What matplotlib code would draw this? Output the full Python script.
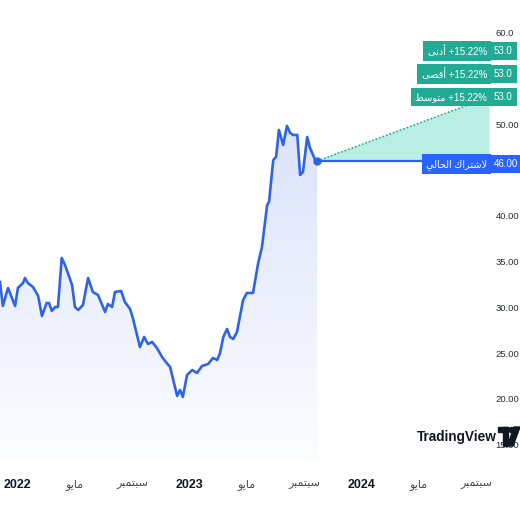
import matplotlib
matplotlib.use("Agg")
import matplotlib.pyplot as plt
import matplotlib.dates as mdates
from matplotlib.patches import Polygon, Rectangle, Circle
from matplotlib.transforms import IdentityTransform
from matplotlib.colors import LinearSegmentedColormap
import numpy as np
import pandas as pd

# price history
dates = [
    "2021-11-24", "2021-11-30", "2021-12-11", "2021-12-26", "2022-01-01", "2022-01-12",
    "2022-01-16", "2022-01-22", "2022-02-02", "2022-02-13", "2022-02-21", "2022-03-03",
    "2022-03-08", "2022-03-14", "2022-03-21", "2022-03-27", "2022-04-04", "2022-04-11",
    "2022-04-26", "2022-05-02", "2022-05-09", "2022-05-19", "2022-05-30", "2022-06-09",
    "2022-06-20", "2022-07-05", "2022-07-11", "2022-07-20", "2022-07-26", "2022-08-08",
    "2022-08-16", "2022-08-27", "2022-09-02", "2022-09-17", "2022-09-26", "2022-10-04",
    "2022-10-13", "2022-10-23", "2022-11-03", "2022-11-11", "2022-11-20", "2022-12-05",
    "2022-12-11", "2022-12-17", "2022-12-26", "2023-01-06", "2023-01-16", "2023-01-27",
    "2023-02-09", "2023-02-19", "2023-02-28", "2023-03-06", "2023-03-13", "2023-03-21",
    "2023-03-27", "2023-04-03", "2023-04-11", "2023-04-24", "2023-05-02", "2023-05-15",
    "2023-05-26", "2023-06-03", "2023-06-14", "2023-06-18", "2023-06-27", "2023-07-03",
    "2023-07-09", "2023-07-18", "2023-07-26", "2023-08-02", "2023-08-08", "2023-08-17",
    "2023-08-23", "2023-08-29", "2023-09-07", "2023-09-13", "2023-09-24", "2023-09-28",
]
prices = [
    32.79, 30.16, 32.13, 30.16, 32.13, 32.68,
    33.22, 32.68, 32.24, 31.26, 29.07, 30.49,
    30.49, 29.62, 30.05, 30.05, 35.41, 34.64,
    32.46, 30.05, 29.73, 30.27, 33.22, 31.69,
    31.37, 29.51, 30.38, 30.05, 31.69, 31.80,
    30.60, 29.84, 28.85, 25.68, 26.78, 26.01,
    26.23, 25.57, 24.59, 24.04, 23.50, 20.33,
    20.98, 20.22, 22.62, 23.17, 22.84, 23.61,
    23.83, 24.48, 24.26, 25.03, 26.78, 27.65,
    26.78, 26.56, 27.32, 30.82, 31.58, 31.58,
    34.86, 36.61, 41.20, 41.53, 46.12, 46.45,
    49.40, 47.76, 49.84, 49.07, 48.85, 48.85,
    44.48, 44.81, 48.63, 47.43, 46.12, 46.00,
]

current_label = "لاشتراك الحالي"
current_price = 46.00
target_names = ["أدنى", "أقصى", "متوسط"]
target_values = [53.0, 53.0, 53.0]

xtick_dates = ["2022-01-01", "2022-05-01", "2022-09-01", "2023-01-01", "2023-05-01",
               "2023-09-01", "2024-01-01", "2024-05-01", "2024-09-01"]
xtick_labels = ["2022", "مايو", "سبتمبر", "2023", "مايو", "سبتمبر", "2024", "مايو", "سبتمبر"]
# 45 and 55 sit under the price tags, so only the visible ones
ytick_values = [15, 20, 25, 30, 35, 40, 50, 60]
ytick_labels = ["15.00", "20.00", "25.00", "30.00", "35.00", "40.00", "50.00", "60.0"]

LINE = "#2f64e6"
BLUE = "#2962ff"
TEAL = "#22ab94"

# --- minimal arabic shaping (matplotlib has no bidi / joining) ---
FORMS = {
    "ا": ("\ufe8d", "\ufe8e", None, None),
    "أ": ("\ufe83", "\ufe84", None, None),
    "ب": ("\ufe8f", "\ufe90", "\ufe91", "\ufe92"),
    "ت": ("\ufe95", "\ufe96", "\ufe97", "\ufe98"),
    "ح": ("\ufea1", "\ufea2", "\ufea3", "\ufea4"),
    "د": ("\ufea9", "\ufeaa", None, None),
    "ر": ("\ufead", "\ufeae", None, None),
    "س": ("\ufeb1", "\ufeb2", "\ufeb3", "\ufeb4"),
    "ش": ("\ufeb5", "\ufeb6", "\ufeb7", "\ufeb8"),
    "ص": ("\ufeb9", "\ufeba", "\ufebb", "\ufebc"),
    "ط": ("\ufec1", "\ufec2", "\ufec3", "\ufec4"),
    "ق": ("\ufed5", "\ufed6", "\ufed7", "\ufed8"),
    "ك": ("\ufed9", "\ufeda", "\ufedb", "\ufedc"),
    "ل": ("\ufedd", "\ufede", "\ufedf", "\ufee0"),
    "م": ("\ufee1", "\ufee2", "\ufee3", "\ufee4"),
    "ن": ("\ufee5", "\ufee6", "\ufee7", "\ufee8"),
    "و": ("\ufeed", "\ufeee", None, None),
    "ى": ("\ufeef", "\ufef0", None, None),
    "ي": ("\ufef1", "\ufef2", "\ufef3", "\ufef4"),
}


def shape_word(word):
    tokens = []
    i = 0
    while i < len(word):
        if word[i] == "ل" and i + 1 < len(word) and word[i + 1] in "اأ":
            tokens.append("LA")
            i += 2
        else:
            tokens.append(word[i])
            i += 1

    def dual(t):
        return t != "LA" and t in FORMS and FORMS[t][2] is not None

    out = []
    for k, t in enumerate(tokens):
        prev_join = k > 0 and dual(tokens[k - 1])
        next_join = k + 1 < len(tokens)
        if t == "LA":
            out.append("\ufefc" if prev_join else "\ufefb")
            continue
        if t not in FORMS:
            out.append(t)
            continue
        iso, fin, ini, med = FORMS[t]
        if ini is None:
            out.append(fin if prev_join else iso)
        elif prev_join and next_join:
            out.append(med)
        elif prev_join:
            out.append(fin)
        elif next_join:
            out.append(ini)
        else:
            out.append(iso)
    return "".join(reversed(out))


def ar(text):
    return " ".join(shape_word(w) for w in reversed(text.split()))


plt.rcParams["font.family"] = ["Liberation Sans", "DejaVu Sans"]

d = pd.to_datetime(dates)
xnum = mdates.date2num(d)

fig = plt.figure(figsize=(5.2, 5.2), dpi=100)
ax = fig.add_axes([0, 60 / 520, 490 / 520, 460 / 520])
ax.set_facecolor("white")

ymin, ymax = 13.33, 63.6
x_left = mdates.date2num(pd.Timestamp("2021-11-24"))
x_right = mdates.date2num(pd.Timestamp("2024-09-29"))

# gradient area under the line
cmap = LinearSegmentedColormap.from_list("area", ["#fcfdff", "#dbe3fb"])
grad = np.linspace(1, 0, 256).reshape(-1, 1)
im = ax.imshow(grad, extent=[xnum[0], xnum[-1], ymin, max(prices)], aspect="auto",
               cmap=cmap, origin="upper", zorder=1)
verts = [(xnum[0], ymin)] + list(zip(xnum, prices)) + [(xnum[-1], ymin)]
clip = Polygon(verts, closed=True, transform=ax.transData, facecolor="none", edgecolor="none")
ax.add_patch(clip)
im.set_clip_path(clip)

ax.plot(xnum, prices, color=LINE, lw=1.9, zorder=3, solid_joinstyle="round")

# forecast cone
t_end = mdates.date2num(d[-1] + pd.Timedelta(days=366))
tgt = max(target_values)
ax.add_patch(Polygon([(xnum[-1], current_price), (t_end, tgt), (t_end, current_price)],
                     closed=True, facecolor="#b8efe2", edgecolor="none", zorder=2))
ax.plot([xnum[-1], t_end], [current_price, tgt], color=TEAL, lw=1.1, ls=(0, (1.2, 1.2)), zorder=3)
ax.plot([xnum[-1], t_end], [current_price, current_price], color=BLUE, lw=1.6, zorder=3)
ax.plot([xnum[-1]], [current_price], "o", color=LINE, ms=5, zorder=4)

ax.set_xlim(x_left, x_right)
ax.set_ylim(ymin, ymax)
for s in ax.spines.values():
    s.set_visible(False)

ax.set_xticks(mdates.date2num(pd.to_datetime(xtick_dates)))
ax.set_xticklabels([ar(t) if not t.isdigit() else t for t in xtick_labels])
ax.tick_params(axis="x", length=0, pad=14, labelsize=9)
for lab, raw in zip(ax.get_xticklabels(), xtick_labels):
    if raw.isdigit():
        lab.set_fontweight("bold")
        lab.set_color("#131722")
    else:
        lab.set_color("#434651")
        lab.set_fontsize(8)

ax.yaxis.tick_right()
ax.set_yticks(ytick_values)
ax.set_yticklabels(ytick_labels)
ax.tick_params(axis="y", length=0, pad=4, labelsize=6.8, labelcolor="#2a2e39")

# price tags on the right scale (pixel positions from data)
ident = IdentityTransform()


def tag(value, left_text, right_text, color, shift=0):
    y = ax.transData.transform((x_right, value))[1] + shift
    box = dict(boxstyle="square,pad=0.45", fc=color, ec="none")
    fig.text(487, y, left_text, transform=ident, ha="right", va="center",
             color="white", fontsize=7, bbox=box, zorder=6)
    fig.text(494, y, right_text, transform=ident, ha="left", va="center",
             color="white", fontsize=7, bbox=box, zorder=6)


pct = (tgt / current_price - 1) * 100
row_shift = [46, 23, 0]
for name, val, sh in zip(target_names, target_values, row_shift):
    tag(val, f"{ar(name)} +{pct:.2f}%", f"{val:.1f}", TEAL, sh)
tag(current_price, ar(current_label), f"{current_price:.2f}", BLUE, -3)

# watermark
fig.text(497, 520 - 437, "TradingView", transform=ident, ha="right", va="center",
         fontsize=9.8, fontweight="bold", color="#131722", zorder=7)
ink = "#131722"
fig.add_artist(Rectangle((498, 520 - 432), 10, 5, transform=ident, color=ink, zorder=7))
fig.add_artist(Rectangle((503, 520 - 446), 5, 19, transform=ident, color=ink, zorder=7))
fig.add_artist(Circle((511.5, 520 - 430), 2.5, transform=ident, color=ink, zorder=7))
fig.add_artist(Polygon([(514, 520 - 427), (520, 520 - 427), (513, 520 - 446), (507.5, 520 - 446)],
                       closed=True, transform=ident, color=ink, zorder=7))

fig.savefig("out.png", dpi=100, facecolor="white")
